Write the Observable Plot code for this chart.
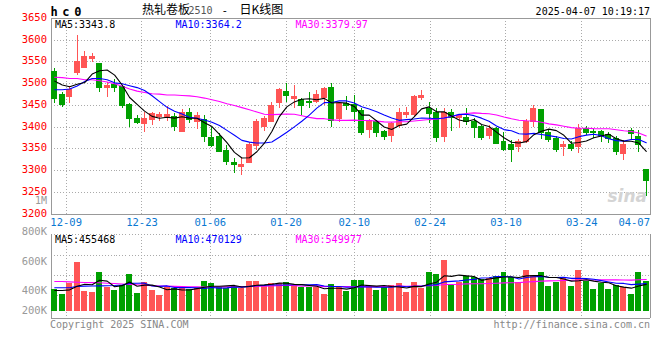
<!DOCTYPE html>
<html>
<head>
<meta charset="utf-8">
<script src="https://cdn.jsdelivr.net/npm/d3@7"></script>
<script src="https://cdn.jsdelivr.net/npm/@observablehq/plot@0.6"></script>
<style>
  html, body { margin: 0; padding: 0; background: #fff; }
  #chart { position: relative; width: 660px; height: 360px; overflow: hidden; background: #fff; }
  #chart > div { position: absolute; left: 0; }
  svg { display: block; }
</style>
</head>
<body>
<div id="chart"><div id="price" style="top:0"></div><div id="vol" style="top:230px"></div></div>
<script>
// ---------- data ----------
const dates = ["12-05","12-06","12-09","12-10","12-11","12-12","12-13","12-16","12-17","12-18","12-19","12-20","12-23","12-24","12-25","12-26","12-27","12-30","12-31","01-02","01-03","01-06","01-07","01-08","01-09","01-10","01-13","01-14","01-15","01-16","01-17","01-20","01-21","01-22","01-23","01-24","01-27","02-05","02-06","02-07","02-10","02-11","02-12","02-13","02-14","02-17","02-18","02-19","02-20","02-21","02-24","02-25","02-26","02-27","02-28","03-03","03-04","03-05","03-06","03-07","03-10","03-11","03-12","03-13","03-14","03-17","03-18","03-19","03-20","03-21","03-24","03-25","03-26","03-27","03-28","03-31","04-01","04-02","04-03","04-07"];
const open  = [3528,3475,3469,3524,3537,3557,3545,3490,3498,3492, 3450,3420,3407,3416,3424,3423,3423,3389,3433,3411, 3417,3375,3377,3345,3318,3309,3317,3357,3400,3413, 3456,3480,3465,3463,3459,3458,3467,3490,3418,3454, 3451,3438,3393,3412,3389,3380,3402,3429,3429,3467, 3442,3432,3378,3433,3422,3422,3412,3400,3380,3397, 3365,3359,3355,3365,3412,3440,3387,3374,3355,3359, 3355,3397,3389,3389,3381,3374,3339,3391,3377,3301];
const high  = [3534,3480,3493,3610,3575,3569,3547,3503,3509,3494, 3454,3427,3435,3435,3433,3448,3432,3441,3444,3435, 3426,3400,3386,3357,3327,3328,3366,3418,3425,3456, 3490,3501,3496,3467,3479,3484,3492,3500,3456,3471, 3473,3442,3418,3415,3393,3412,3442,3445,3473,3484, 3456,3442,3442,3440,3430,3442,3420,3405,3404,3400, 3389,3370,3372,3417,3450,3440,3393,3378,3368,3368, 3407,3402,3394,3393,3387,3378,3370,3397,3393,3301];
const low   = [3454,3446,3454,3520,3535,3549,3480,3469,3479,3442, 3400,3407,3387,3403,3413,3413,3391,3387,3408,3394, 3364,3353,3341,3311,3294,3288,3316,3347,3391,3410, 3443,3456,3444,3426,3442,3455,3450,3400,3412,3438, 3410,3381,3375,3377,3370,3364,3398,3420,3423,3461, 3408,3365,3364,3391,3397,3404,3375,3370,3372,3360, 3345,3320,3341,3362,3400,3372,3364,3341,3332,3345, 3339,3382,3375,3364,3362,3334,3324,3370,3343,3240];
const close = [3464,3452,3486,3550,3562,3561,3490,3495,3491,3448, 3418,3410,3418,3431,3427,3429,3400,3433,3416,3425, 3378,3356,3343,3320,3314,3313,3359,3412,3418,3448, 3485,3471,3469,3448,3455,3473,3487,3415,3454,3448, 3435,3387,3415,3387,3378,3407,3432,3432,3469,3471, 3430,3375,3432,3421,3426,3412,3398,3375,3397,3362, 3347,3347,3365,3413,3442,3387,3371,3348,3359,3351, 3396,3387,3386,3380,3372,3342,3360,3384,3360,3277];
const volume = [365,284,478,837,342,325,666,399,359,433, 632,307,495,359,273,399,382,399,365,382, 512,478,399,393,421,382,512,512,421,478, 478,495,421,399,410,410,284,455,399,342, 524,524,399,353,399,438,473,319,490,382, 661,627,866,438,495,593,570,541,553,593, 661,576,495,695,610,661,421,495,570,421, 695,512,370,478,370,438,399,284,661,512].map(v => v * 1000);

// moving-average values at the left edge (they depend on earlier sessions not in view)
const ma5Head  = [3506,3497,3493,3499];
const ma10Head = [3486,3486,3488,3495,3505,3512,3512,3509,3502];
const ma30Head = [3515,3514,3512,3512,3509,3509,3507,3504,3500,3494,3488,3483,3480,3477,3476,3474,3474,3473,3472,3470,3467,3463,3459,3454,3450,3445,3440,3435,3430];
const vma5Head  = [355,355,365,425].map(v => v * 1000);
const vma10Head = [400,400,400,425,428,430,433,435,440].map(v => v * 1000);
const vma30Head = [508,508,502,496,491,489,485,479,473,464,457,451,443,437,432,428,424,420,417,415,414,414,415,416,418,420,423,426,429].map(v => v * 1000);

const priceTicks = [3200,3250,3300,3350,3400,3450,3500,3550,3600,3650];
const dateTicks = ["12-09","12-23","01-06","01-20","02-10","02-24","03-10","03-24","04-07"];
const priceLegend = ["MA5:3343.8","MA10:3364.2","MA30:3379.97"];
const volLegend = ["MA5:455468","MA10:470129","MA30:549977"];
const volTickLabels = ["800K","600K","400K","200K"];

// ---------- layout / style ----------
const RED = "#ff5555", GREEN = "#00a000";
const mono = "'DejaVu Sans Mono', 'Liberation Mono', monospace";
const cjk = "'Noto Sans CJK SC', sans-serif";
const frameGray = "#999", gridGray = "#aaa", dot = "1,2";
const n = dates.length;

const rows = dates.map((date, i) => ({i, date, open: open[i], high: high[i], low: low[i], close: close[i], volume: volume[i]}));
const col = d => d.close >= d.open ? RED : GREEN;
const movingAvg = (vals, k, head) => vals.map((v, i) => i < k - 1 ? head[i] : d3.mean(vals.slice(i - k + 1, i + 1)));
const asLine = arr => arr.map((v, i) => ({i, v}));
const ma5 = asLine(movingAvg(close, 5, ma5Head));
const ma10 = asLine(movingAvg(close, 10, ma10Head));
const ma30 = asLine(movingAvg(close, 30, ma30Head));
const vma5 = asLine(movingAvg(volume, 5, vma5Head));
const vma10 = asLine(movingAvg(volume, 10, vma10Head));
const vma30 = asLine(movingAvg(volume, 30, vma30Head));

// Sina places its date grid on an (n-1)-step scale spanning the frame
const gridPos = t => dates.indexOf(t) * n / (n - 1) - 0.5;
const gridX = dateTicks.slice(0, -1).map(gridPos);
const dateMid = dateTicks.slice(0, -1);
const dateLast = dateTicks.slice(-1);

const crisp = {shapeRendering: "crispEdges"};
const legendText = (s, dx, color, dy) => Plot.text([s], {text: d => d, frameAnchor: "top-left", dx, dy, lineAnchor: "top", fill: color, fontFamily: mono, fontSize: 10});
const header = (s, opts) => Plot.text([s], {text: d => d, lineAnchor: "middle", ...opts});

const pricePlot = Plot.plot({
  width: 660, height: 230,
  marginLeft: 50.5, marginRight: 10.5, marginTop: 18, marginBottom: 16.3,
  x: {domain: [-0.5, n - 0.5], axis: null},
  y: {domain: [3200, 3650], axis: null},
  style: {background: "transparent", overflow: "visible", fontFamily: mono, fontSize: "10px"},
  marks: [
    Plot.ruleY(priceTicks.slice(1, -1), {stroke: gridGray, strokeDasharray: dot, ...crisp}),
    Plot.ruleX(gridX, {stroke: gridGray, strokeDasharray: dot, ...crisp}),
    Plot.frame({stroke: frameGray, ...crisp}),
    // price labels
    Plot.text(priceTicks, {y: d => d, text: d => String(d), frameAnchor: "left", lineAnchor: "middle", textAnchor: "end", dx: -4, dy: -1, fill: "#f00", fontFamily: mono, fontSize: 10.5}),
    Plot.text(["1M"], {text: d => d, frameAnchor: "bottom-left", lineAnchor: "middle", textAnchor: "end", dx: -4, dy: -13, fill: "#999", fontFamily: mono, fontSize: 10}),
    // date labels
    Plot.text(dateMid, {x: gridPos, text: d => d, frameAnchor: "bottom", lineAnchor: "middle", dy: 8, fill: "#0a78d2", fontFamily: mono, fontSize: 10.5}),
    Plot.text(dateLast, {x: gridPos, text: d => d, frameAnchor: "bottom", lineAnchor: "middle", textAnchor: "end", dy: 8, fill: "#0a78d2", fontFamily: mono, fontSize: 10.5}),
    // watermark
    Plot.text(["sina"], {text: d => d, frameAnchor: "bottom-right", lineAnchor: "middle", textAnchor: "end", dx: -3, dy: -18, fill: "#d4d4d4", fontFamily: "'DejaVu Sans', sans-serif", fontSize: 17, fontWeight: "bold", fontStyle: "italic"}),
    // candles
    Plot.ruleX(rows, {x: "i", y1: "low", y2: "high", stroke: col, strokeWidth: 1, ...crisp}),
    Plot.rect(rows, {x1: d => d.i - 0.5, x2: d => d.i + 0.5, y1: "open", y2: "close", fill: col, stroke: col, strokeWidth: 1, insetLeft: 1.25, insetRight: 1.25, ...crisp}),
    // moving averages
    Plot.line(ma30, {x: "i", y: "v", stroke: "#ff00ff", strokeWidth: 1.1}),
    Plot.line(ma10, {x: "i", y: "v", stroke: "#0000ff", strokeWidth: 1.1}),
    Plot.line(ma5, {x: "i", y: "v", stroke: "#000", strokeWidth: 1.1}),
    legendText(priceLegend[0], 4, "#000", 2.5),
    legendText(priceLegend[1], 124.5, "#0000ff", 2.5),
    legendText(priceLegend[2], 244.5, "#ff00ff", 2.5),
    // header
    header("hc0", {frameAnchor: "top-left", textAnchor: "start", dx: -0.5, dy: -6.3, fill: "#000", fontFamily: mono, fontSize: 12, fontWeight: "bold"}),
    header("热轧卷板", {frameAnchor: "top-left", textAnchor: "start", dx: 91, dy: -8.2, fill: "#000", fontFamily: cjk, fontSize: 12}),
    header("2510", {frameAnchor: "top-left", textAnchor: "start", dx: 137.5, dy: -7.6, fill: "#555", fontFamily: mono, fontSize: 10}),
    header("-", {frameAnchor: "top-left", textAnchor: "start", dx: 170.5, dy: -8.2, fill: "#000", fontFamily: mono, fontSize: 11}),
    header("日K线图", {frameAnchor: "top-left", textAnchor: "start", dx: 188.5, dy: -8.2, fill: "#000", fontFamily: cjk, fontSize: 12}),
    header("2025-04-07 10:19:17", {frameAnchor: "top-right", textAnchor: "end", dx: 0, dy: -6.3, fill: "#000", fontFamily: mono, fontSize: 10})
  ]
});
// the symbol is printed with wide letter spacing
pricePlot.querySelectorAll("text").forEach(t => { if (t.textContent === "hc0") t.setAttribute("letter-spacing", "4.6"); });
document.getElementById("price").appendChild(pricePlot);

// volume panel: Sina's axis captions sit where printed, not on the bar scale
const volDomain = [-130000, 1306000];
const volGridAt = [947000, 605000, 263000];
const volLabelAt = [1362000, 850000, 347000, 9000];

const volPlot = Plot.plot({
  width: 660, height: 105,
  marginLeft: 50.5, marginRight: 10.5, marginTop: 4.3, marginBottom: 16.7,
  x: {domain: [-0.5, n - 0.5], axis: null},
  y: {domain: volDomain, axis: null},
  style: {background: "transparent", overflow: "visible", fontFamily: mono, fontSize: "10px"},
  marks: [
    Plot.ruleY(volGridAt, {stroke: gridGray, strokeDasharray: dot, ...crisp}),
    Plot.ruleY([volDomain[1]], {stroke: gridGray, strokeDasharray: dot, ...crisp}),
    Plot.ruleX(gridX, {stroke: gridGray, strokeDasharray: dot, ...crisp}),
    Plot.ruleX([-0.5, n - 0.5], {stroke: frameGray, ...crisp}),
    Plot.ruleY([volDomain[0]], {stroke: frameGray, ...crisp}),
    Plot.text(volTickLabels, {y: (d, i) => volLabelAt[i], text: d => d, frameAnchor: "left", lineAnchor: "middle", textAnchor: "end", dx: -4, fill: "#999", fontFamily: mono, fontSize: 10.5}),
    Plot.rect(rows, {x1: d => d.i - 0.5, x2: d => d.i + 0.5, y1: 0, y2: "volume", fill: col, insetLeft: 0.75, insetRight: 0.75, ...crisp}),
    Plot.line(vma30, {x: "i", y: "v", stroke: "#ff00ff", strokeWidth: 1.1}),
    Plot.line(vma10, {x: "i", y: "v", stroke: "#0000ff", strokeWidth: 1.1}),
    Plot.line(vma5, {x: "i", y: "v", stroke: "#000", strokeWidth: 1.1}),
    legendText(volLegend[0], 4, "#000", 0.8),
    legendText(volLegend[1], 124.5, "#0000ff", 0.8),
    legendText(volLegend[2], 244.5, "#ff00ff", 0.8),
    Plot.text(["Copyright 2025 SINA.COM"], {text: d => d, frameAnchor: "bottom-left", textAnchor: "start", dx: -1, dy: 1.8, lineAnchor: "top", fill: "#888", fontFamily: mono, fontSize: 10}),
    Plot.text(["http://finance.sina.com.cn"], {text: d => d, frameAnchor: "bottom-right", textAnchor: "end", dy: 1.8, lineAnchor: "top", fill: "#888", fontFamily: mono, fontSize: 10})
  ]
});
document.getElementById("vol").appendChild(volPlot);
</script>
</body>
</html>
